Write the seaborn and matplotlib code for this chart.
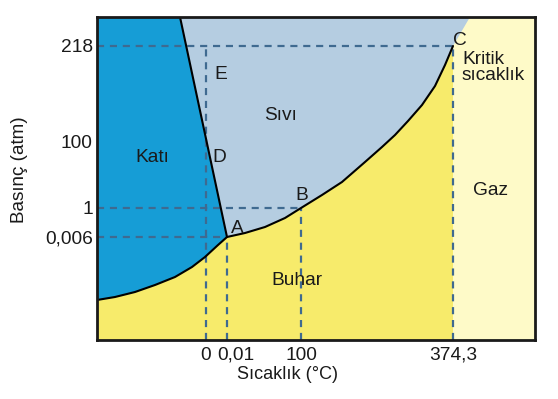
import numpy as np
import pandas as pd
import matplotlib
matplotlib.use("Agg")
import matplotlib.pyplot as plt
from matplotlib.transforms import ScaledTranslation
import seaborn as sns

# Schematic phase diagram of water (diagram units, not to scale)
x_ticks = [109, 130, 204, 356]
x_tick_labels = ["0", "0,01", "100", "374,3"]
y_ticks = [103, 132, 198, 294]
y_tick_labels = ["0,006", "1", "100", "218"]

# sublimation curve (solid / vapour), from left edge to triple point A
sub_x = [0, 18, 38, 58, 78, 95, 108, 121, 130]
sub_y = [40, 43, 48, 55, 63, 73, 83, 95, 103]
# vaporization curve (liquid / vapour), from A through B to critical point C
vap_x = [130, 148, 168, 188, 204, 225, 245, 268, 285, 298, 311, 325, 338, 348, 356]
vap_y = [103, 107, 113, 122, 132, 145, 158, 178, 193, 205, 219, 235, 254, 275, 294]
# melting line (solid / liquid), from A to top
melt_x = [130, 83]
melt_y = [103, 323]
# liquid / supercritical boundary above C
sup_x = [356, 373]
sup_y = [294, 323]

XMAX, YMAX = 438, 323

c_solid = "#169dd6"
c_liquid = "#b5cde1"
c_vapor = "#f7eb6b"
c_gas = "#fefac8"
c_dash = "#3f6a90"

sns.set_theme(style="white")
plt.rcParams["font.family"] = ["Liberation Sans", "DejaVu Sans"]

fig = plt.figure(figsize=(5.58, 3.99), dpi=100)
ax = fig.add_axes([97 / 558, 59 / 399, 438 / 558, 323 / 399])
ax.set_xlim(0, XMAX)
ax.set_ylim(0, YMAX)
ax.set_facecolor(c_gas)

# regions
vx = [0] + sub_x + vap_x[1:] + [vap_x[-1]]
vy = [0] + sub_y + vap_y[1:] + [0]
ax.fill(vx, vy, color=c_vapor, lw=0, zorder=1)

lx = vap_x + sup_x[1:] + [melt_x[1]]
ly = vap_y + sup_y[1:] + [melt_y[1]]
ax.fill(lx, ly, color=c_liquid, lw=0, zorder=1)

sx = [0] + sub_x + [melt_x[1], 0]
sy = [sub_y[0]] + sub_y + [melt_y[1], YMAX]
ax.fill(sx, sy, color=c_solid, lw=0, zorder=1)

# dashed guides
dkw = dict(color=c_dash, lw=1.6, ls=(0, (3.2, 2.6)), zorder=2)
ax.plot([0, x_ticks[3]], [y_ticks[3]] * 2, **dkw)
ax.plot([x_ticks[0]] * 2, [0, y_ticks[3]], **dkw)
ax.plot([0, x_ticks[2]], [y_ticks[1]] * 2, **dkw)
ax.plot([0, x_ticks[1]], [y_ticks[0]] * 2, **dkw)
ax.plot([x_ticks[1]] * 2, [0, y_ticks[0]], **dkw)
ax.plot([x_ticks[2]] * 2, [0, y_ticks[1]], **dkw)
ax.plot([x_ticks[3]] * 2, [0, y_ticks[3]], **dkw)

# phase boundaries
for xs, ys in [(sub_x, sub_y), (vap_x, vap_y), (melt_x, melt_y)]:
    df = pd.DataFrame({"x": xs, "y": ys})
    sns.lineplot(data=df, x="x", y="y", sort=False, color="black", lw=1.5,
                 ax=ax, zorder=3, estimator=None)

fs = 13.8
tkw = dict(fontsize=fs, color="#1a1a1a", zorder=4)
ax.text(124, 261, "E", ha="center", va="baseline", **tkw)
ax.text(122, 178, "D", ha="center", va="baseline", **tkw)
ax.text(55, 178, "Katı", ha="center", va="baseline", **tkw)
ax.text(184, 220, "Sıvı", ha="center", va="baseline", **tkw)
ax.text(205, 140, "B", ha="center", va="baseline", **tkw)
ax.text(140, 107, "A", ha="center", va="baseline", **tkw)
ax.text(363, 295, "C", ha="center", va="baseline", **tkw)
ax.text(365, 260, "Kritik\nsıcaklık", ha="left", va="baseline",
        linespacing=0.93, **tkw)
ax.text(394, 145, "Gaz", ha="center", va="baseline", **tkw)
ax.text(200, 55, "Buhar", ha="center", va="baseline", **tkw)

ax.set_xticks(x_ticks)
ax.set_xticklabels(x_tick_labels)
ax.set_yticks(y_ticks)
ax.set_yticklabels(y_tick_labels)
ax.tick_params(axis="both", length=0, labelsize=fs, colors="#1a1a1a")
ax.tick_params(axis="x", pad=5)
ax.tick_params(axis="y", pad=3)

# shift the crowded "0,01" label slightly right, as in the reference
for lab in ax.get_xticklabels():
    if lab.get_text() == "0,01":
        lab.set_transform(lab.get_transform() +
                          ScaledTranslation(9 / 100, 0, fig.dpi_scale_trans))

ax.set_xlabel("Sıcaklık (°C)", fontsize=13, color="#1a1a1a")
ax.set_ylabel("Basınç (atm)", fontsize=13.6, color="#1a1a1a")
ax.xaxis.set_label_coords(0.436, -0.08)
ax.yaxis.set_label_coords(-0.1575, 0.526)

for s in ax.spines.values():
    s.set_visible(True)
    s.set_color("#1a1a1a")
    s.set_linewidth(2)
    s.set_zorder(5)

fig.savefig("out.png", dpi=100)
